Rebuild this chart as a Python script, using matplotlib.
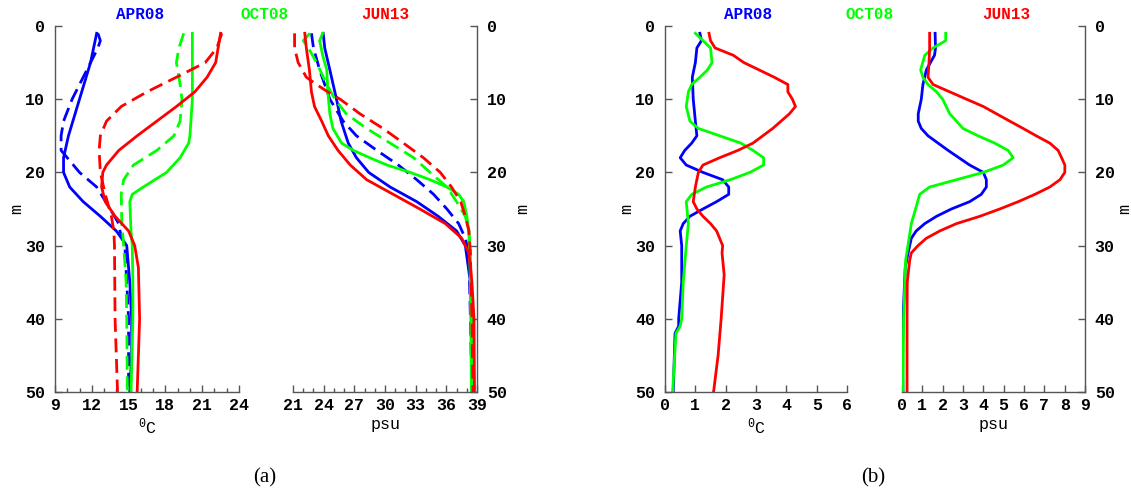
import numpy as np
import matplotlib
matplotlib.use("Agg")
import matplotlib.pyplot as plt
from matplotlib.ticker import MultipleLocator

plt.rcParams["font.family"] = ["Liberation Mono", "DejaVu Sans"]
plt.rcParams["font.weight"] = "bold"
plt.rcParams["mathtext.fontset"] = "custom"
plt.rcParams["mathtext.rm"] = "Liberation Mono:bold"

BLUE = "#0000ff"
GREEN = "#00ff00"
RED = "#ff0000"

# (a) temperature, solid and dashed profiles
apr_t_z = [1, 5, 10, 15, 18, 20, 22, 24, 26, 28, 30, 35, 40, 45, 50]
apr_t = [12.4, 11.9, 11.0, 10.1, 9.7, 9.7, 10.2, 11.3, 12.7, 14.0, 14.85, 15.1, 15.25, 15.25, 15.1]
apr_td_z = [1, 2, 3, 5, 8, 10, 13, 15, 17, 18, 20, 22, 25, 27, 28, 30, 35, 40, 50]
apr_td = [12.5, 12.7, 12.5, 11.9, 11.0, 10.4, 9.7, 9.5, 9.5, 10.0, 11.0, 12.4, 13.5, 14.2, 14.3, 14.7, 14.85, 15.0, 15.0]
oct_t_z = [1, 10, 15, 16, 18, 20, 22, 23, 24, 28, 30, 35, 40, 50]
oct_t = [20.2, 20.2, 20.0, 19.9, 19.2, 18.1, 16.2, 15.3, 15.1, 15.2, 15.3, 15.35, 15.35, 15.2]
oct_td_z = [1, 3, 5, 8, 10, 13, 15, 17, 19, 21, 23, 27, 30, 35, 40, 50]
oct_td = [19.5, 19.1, 18.9, 19.2, 19.35, 19.2, 18.7, 17.3, 15.4, 14.6, 14.4, 14.45, 14.6, 14.8, 14.85, 14.9]
jun_t_z = [1, 3, 5, 7, 9, 11, 13, 15, 17, 19, 20, 22, 24, 26, 28, 30, 33, 40, 50]
jun_t = [22.5, 22.3, 22.1, 21.4, 20.4, 18.9, 17.3, 15.7, 14.2, 13.2, 12.9, 12.8, 13.1, 13.9, 15.0, 15.5, 15.8, 15.9, 15.7]
jun_td_z = [1, 3, 5, 7, 9, 11, 13, 15, 17, 20, 23, 26, 28, 30, 40, 50]
jun_td = [22.6, 22.2, 21.25, 18.9, 16.5, 14.4, 13.2, 12.7, 12.6, 12.7, 13.1, 13.6, 13.8, 13.85, 13.9, 14.1]

# (a) salinity
apr_s_z = [1, 3, 6, 10, 13, 16, 18, 20, 22, 24, 26, 28, 30, 35, 40, 50]
apr_s = [23.95, 24.1, 24.6, 25.25, 25.7, 26.4, 27.2, 28.4, 30.5, 33.1, 35.2, 37.0, 37.85, 38.35, 38.45, 38.5]
apr_sd_z = [1, 3, 6, 10, 13, 15, 17, 19, 21, 23, 25, 27, 29, 31, 40, 50]
apr_sd = [22.8, 23.0, 23.6, 24.6, 25.9, 27.2, 29.2, 31.3, 33.1, 34.75, 36.05, 37.2, 37.85, 38.2, 38.35, 38.5]
oct_s_z = [1, 2, 4, 6, 9, 12, 14, 16, 17, 18, 19, 20, 21, 22, 23, 24, 26, 28, 35, 50]
oct_s = [23.9, 23.6, 23.9, 24.3, 24.4, 24.6, 24.9, 25.75, 26.9, 28.5, 30.2, 32.45, 34.4, 36.05, 37.2, 37.7, 38.0, 38.2, 38.35, 38.45]
oct_sd_z = [1, 2, 3, 5, 8, 10, 12, 14, 16, 18, 20, 22, 24, 26, 28, 31, 40, 50]
oct_sd = [22.65, 22.0, 22.5, 23.3, 24.3, 25.1, 26.2, 28.2, 30.5, 32.8, 34.4, 36.05, 37.0, 37.85, 38.2, 38.35, 38.45, 38.5]
jun_s_z = [1, 3, 6, 9, 11, 13, 15, 17, 19, 21, 23, 25, 27, 29, 31, 35, 40, 50]
jun_s = [22.15, 22.3, 22.6, 22.8, 23.1, 23.8, 24.45, 25.4, 26.6, 28.2, 30.8, 33.4, 35.9, 37.5, 38.2, 38.5, 38.7, 38.75]
jun_sd_z = [1, 3, 5, 7, 8, 9, 10, 12, 14, 16, 18, 20, 22, 24, 26, 28, 31, 40, 50]
jun_sd = [21.15, 21.15, 21.5, 22.3, 23.3, 24.4, 25.6, 27.55, 29.8, 31.8, 33.75, 35.4, 36.5, 37.4, 37.85, 38.2, 38.35, 38.5, 38.6]

# (b) temperature
apr_bt_z = [1, 2, 3, 5, 7, 10, 13, 15, 16, 17, 18, 19, 20, 21, 22, 23, 24, 25, 26, 27, 28, 30, 35, 40, 41, 42, 50]
apr_bt = [1.15, 1.2, 1.05, 1.0, 0.9, 0.93, 1.0, 1.05, 0.88, 0.65, 0.5, 0.7, 1.25, 1.9, 2.1, 2.1, 1.7, 1.25, 0.82, 0.6, 0.5, 0.55, 0.55, 0.45, 0.45, 0.33, 0.27]
oct_bt_z = [1, 2, 3, 5, 6, 7, 8, 9, 11, 13, 14, 15, 16, 17, 18, 19, 20, 21, 22, 23, 24, 27, 30, 35, 40, 41, 42, 50]
oct_bt = [1.0, 1.25, 1.5, 1.55, 1.4, 1.15, 0.88, 0.77, 0.7, 0.82, 1.1, 1.8, 2.5, 2.9, 3.25, 3.25, 2.8, 2.15, 1.37, 0.88, 0.7, 0.77, 0.7, 0.6, 0.55, 0.5, 0.36, 0.25]
jun_bt_z = [1, 2, 3, 4, 5, 6, 7, 8, 9, 10, 11, 12, 14, 16, 17, 18, 19, 20, 22, 24, 25, 26, 27, 28, 29, 30, 31, 34, 40, 45, 50]
jun_bt = [1.45, 1.5, 1.65, 2.25, 2.6, 3.1, 3.6, 4.05, 4.05, 4.2, 4.3, 4.1, 3.55, 2.9, 2.4, 1.8, 1.25, 1.1, 1.0, 0.93, 1.05, 1.25, 1.5, 1.7, 1.8, 1.9, 1.88, 1.95, 1.85, 1.75, 1.6]

# (b) salinity
apr_bs_z = [1, 3, 4, 6, 8, 10, 12, 13, 14, 15, 17, 19, 20, 21, 22, 23, 24, 25, 26, 27, 28, 29, 31, 33, 40, 45, 50]
apr_bs = [1.63, 1.65, 1.6, 1.2, 1.03, 0.95, 0.8, 0.8, 0.95, 1.28, 2.27, 3.33, 4.0, 4.15, 4.15, 3.9, 3.33, 2.43, 1.7, 1.12, 0.7, 0.46, 0.3, 0.16, 0.05, 0.02, 0.05]
oct_bs_z = [1, 2, 3, 4, 6, 7, 8, 9, 10, 12, 13, 14, 15, 16, 17, 18, 19, 20, 21, 22, 23, 25, 27, 29, 32, 40, 50]
oct_bs = [2.15, 2.15, 1.53, 1.12, 0.92, 1.03, 1.28, 1.7, 2.0, 2.35, 2.68, 3.0, 3.74, 4.56, 5.22, 5.47, 4.98, 4.0, 2.68, 1.36, 0.87, 0.67, 0.46, 0.35, 0.18, 0.08, 0.05]
jun_bs_z = [1, 3, 5, 7, 8, 9, 10, 11, 12, 13, 14, 15, 16, 17, 18, 19, 20, 21, 22, 23, 24, 25, 26, 27, 28, 29, 30, 31, 32, 35, 40, 50]
jun_bs = [1.36, 1.36, 1.33, 1.28, 1.53, 2.35, 3.17, 4.0, 4.65, 5.3, 5.96, 6.6, 7.27, 7.68, 7.85, 8.01, 8.01, 7.77, 7.27, 6.54, 5.72, 4.81, 3.83, 2.68, 1.86, 1.2, 0.79, 0.46, 0.38, 0.26, 0.25, 0.25]

DASH = (0, (5, 2.4))
LW = 2.0

fig = plt.figure(figsize=(11.31, 4.93), dpi=100)

ax1 = fig.add_axes([0.0486, 0.2049, 0.1627, 0.7424])
ax2 = fig.add_axes([0.2591, 0.2049, 0.1627, 0.7424])
ax3 = fig.add_axes([0.5880, 0.2049, 0.1609, 0.7424])
ax4 = fig.add_axes([0.7975, 0.2049, 0.1618, 0.7424])

ax1.plot(apr_t, apr_t_z, color=BLUE, lw=LW)
ax1.plot(apr_td, apr_td_z, color=BLUE, lw=LW, ls=DASH)
ax1.plot(oct_t, oct_t_z, color=GREEN, lw=LW)
ax1.plot(oct_td, oct_td_z, color=GREEN, lw=LW, ls=DASH)
ax1.plot(jun_t, jun_t_z, color=RED, lw=LW)
ax1.plot(jun_td, jun_td_z, color=RED, lw=LW, ls=DASH)

ax2.plot(apr_s, apr_s_z, color=BLUE, lw=LW)
ax2.plot(apr_sd, apr_sd_z, color=BLUE, lw=LW, ls=DASH)
ax2.plot(oct_s, oct_s_z, color=GREEN, lw=LW)
ax2.plot(oct_sd, oct_sd_z, color=GREEN, lw=LW, ls=DASH)
ax2.plot(jun_s, jun_s_z, color=RED, lw=LW)
ax2.plot(jun_sd, jun_sd_z, color=RED, lw=LW, ls=DASH)

ax3.plot(apr_bt, apr_bt_z, color=BLUE, lw=LW)
ax3.plot(oct_bt, oct_bt_z, color=GREEN, lw=LW)
ax3.plot(jun_bt, jun_bt_z, color=RED, lw=LW)

ax4.plot(apr_bs, apr_bs_z, color=BLUE, lw=LW)
ax4.plot(oct_bs, oct_bs_z, color=GREEN, lw=LW)
ax4.plot(jun_bs, jun_bs_z, color=RED, lw=LW)

deg = r"$\mathregular{^0}$C"
for ax, lim, step, minor, xlab, side, ypad in [
    (ax1, (9, 24), 3, 1, deg, "left", 1),
    (ax2, (21, 39), 3, 1, "psu", "right", 6),
    (ax3, (0, 6), 1, None, deg, "left", 1),
    (ax4, (0, 9), 1, None, "psu", "right", 2),
]:
    ax.set_xlim(*lim)
    ax.set_ylim(50, 0)
    ax.xaxis.set_major_locator(MultipleLocator(step))
    if minor:
        ax.xaxis.set_minor_locator(MultipleLocator(minor))
    ax.yaxis.set_major_locator(MultipleLocator(10))
    ax.spines["top"].set_visible(False)
    other = "right" if side == "left" else "left"
    ax.spines[other].set_visible(False)
    for s in ("bottom", side):
        ax.spines[s].set_color("#555555")
        ax.spines[s].set_linewidth(1.0)
    ax.yaxis.set_ticks_position(side)
    ax.yaxis.set_label_position(side)
    ax.tick_params(which="both", direction="in", colors="#555555", labelcolor="black",
                   labelsize=12, width=1.0)
    ax.tick_params(which="major", length=5)
    ax.tick_params(which="minor", length=3)
    ax.tick_params(axis="y", pad=7)
    ax.tick_params(axis="x", pad=4)
    ax.set_xlabel(xlab, fontsize=12, labelpad=3)
    ax.set_ylabel("m", fontsize=12, labelpad=ypad)

# season titles
for x, txt, c in [(0.124, "APR08", BLUE), (0.234, "OCT08", GREEN), (0.341, "JUN13", RED),
                  (0.661, "APR08", BLUE), (0.769, "OCT08", GREEN), (0.890, "JUN13", RED)]:
    fig.text(x, 0.97, txt, color=c, fontsize=11.5, ha="center", va="center")

fig.text(0.234, 0.03, "(a)", fontsize=15, ha="center", va="center",
         family="Liberation Serif", fontweight="normal")
fig.text(0.772, 0.03, "(b)", fontsize=15, ha="center", va="center",
         family="Liberation Serif", fontweight="normal")

fig.savefig("out.png", dpi=100)
